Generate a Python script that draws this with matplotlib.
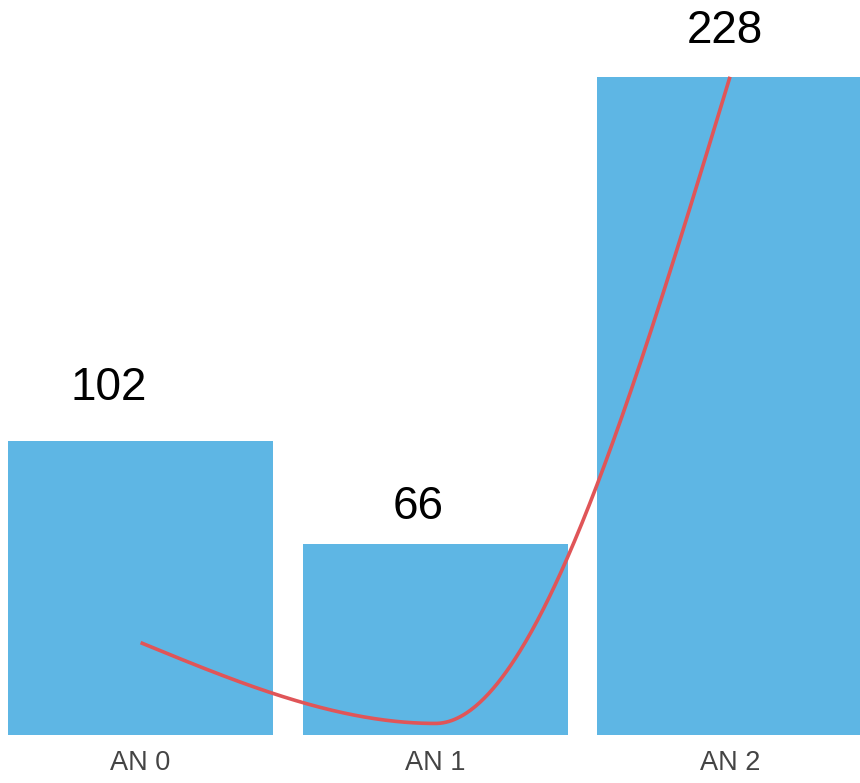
import numpy as np
import matplotlib
matplotlib.use("Agg")
import matplotlib.pyplot as plt

# Data
categories = ["AN 0", "AN 1", "AN 2"]
bar_values = [102, 66, 228]
trend_values = [32, 4, 228]

# Label placement tweaks (pixels): horizontal and vertical offsets from bar tops
label_dx = [-32, -17, -5]
label_dy = [41, 25, 34]

BAR_COLOR = "#5EB6E4"
LINE_COLOR = "#E05558"


def monotone_curve(xs, ys, n=200):
    """Monotone cubic (Fritsch–Carlson style, as in d3.curveMonotoneX)."""
    xs = np.asarray(xs, float)
    ys = np.asarray(ys, float)
    h = np.diff(xs)
    s = np.diff(ys) / h
    t = np.zeros_like(ys)
    for i in range(1, len(xs) - 1):
        s0, s1 = s[i - 1], s[i]
        h0, h1 = h[i - 1], h[i]
        if s0 * s1 <= 0:
            t[i] = 0.0
        else:
            p = (s0 * h1 + s1 * h0) / (h0 + h1)
            t[i] = (np.sign(s0) + np.sign(s1)) * min(abs(s0), abs(s1), 0.5 * abs(p))
    t[0] = (3 * s[0] - t[1]) / 2
    t[-1] = (3 * s[-1] - t[-2]) / 2
    out_x, out_y = [], []
    for i in range(len(xs) - 1):
        u = np.linspace(0, 1, n)
        h00 = 2 * u**3 - 3 * u**2 + 1
        h10 = u**3 - 2 * u**2 + u
        h01 = -2 * u**3 + 3 * u**2
        h11 = u**3 - u**2
        yy = h00 * ys[i] + h10 * h[i] * t[i] + h01 * ys[i + 1] + h11 * h[i] * t[i + 1]
        out_x.append(xs[i] + u * h[i])
        out_y.append(yy)
    return np.concatenate(out_x), np.concatenate(out_y)


plt.rcParams["font.family"] = ["Liberation Sans", "DejaVu Sans"]

W, H, DPI = 860, 783, 100
fig = plt.figure(figsize=(W / DPI, H / DPI), dpi=DPI)
ax = fig.add_axes([8 / W, 48 / H, 852 / W, 735 / H])

x = np.arange(len(categories))
ax.bar(x, bar_values, width=0.9, color=BAR_COLOR, zorder=1)

cx, cy = monotone_curve(x, trend_values)
ax.plot(cx, cy, color=LINE_COLOR, lw=2.6, solid_capstyle="butt", zorder=2)

for xi, v, dx, dy in zip(x, bar_values, label_dx, label_dy):
    ax.annotate(str(v), xy=(xi, v), xytext=(dx, dy), textcoords="offset pixels",
                ha="center", va="baseline", fontsize=33, color="black",
                annotation_clip=False)

ax.set_xlim(-0.45, -0.45 + 852 / 294.7)
ax.set_ylim(0, 735 / 2.887)
ax.set_xticks(x)
ax.set_xticklabels(categories, fontsize=19.5, color="#444444")
ax.tick_params(axis="x", length=0, pad=11)
ax.set_yticks([])
for sp in ax.spines.values():
    sp.set_visible(False)

fig.savefig("out.png", dpi=DPI)
